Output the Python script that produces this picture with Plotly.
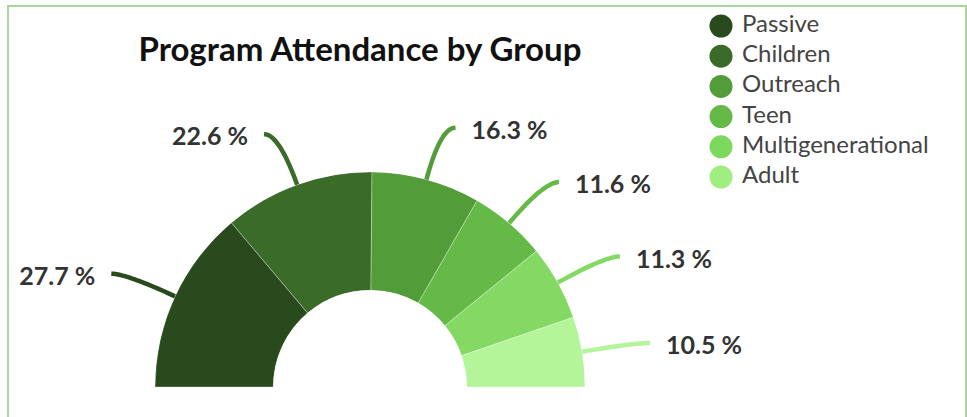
import math
import plotly.graph_objects as go

# ---- data ----
groups = ["Passive", "Children", "Outreach", "Teen", "Multigenerational", "Adult"]
shares = [27.7, 22.6, 16.3, 11.6, 11.3, 10.5]
slice_colors = ["#284a1d", "#3a6b28", "#539c3a", "#64b947", "#84d964", "#b3f598"]
legend_colors = ["#284a1d", "#3a6b28", "#539c3a", "#64b947", "#7dd95d", "#a0ee80"]
title_text = "Program Attendance by Group"

# ---- layout constants (pixels) ----
W, H = 967, 417
PIE_LEFT, PIE_RIGHT, PIE_TOP, PIE_BOTTOM = 155, 585, 172, 387
HOLE = 0.45
CX = (PIE_LEFT + PIE_RIGHT) / 2
CY = PIE_BOTTOM
R = (PIE_RIGHT - PIE_LEFT) / 2
L1 = 1.25          # radial extent of leader elbow (fraction of outer radius)
L2 = 15            # horizontal leader tail, px
GAP = 16           # gap between leader end and label, px
DROP = 5           # label sits slightly below leader end, px
FONT = "Lato"

total = sum(shares)
spans = [s / total * 180.0 for s in shares]
starts = [sum(spans[:i]) for i in range(len(spans))]
mids = [a + w / 2 for a, w in zip(starts, spans)]

fig = go.Figure()

fig.add_trace(go.Barpolar(
    r=[1] * len(groups),
    theta=mids,
    width=spans,
    marker=dict(color=slice_colors, line=dict(color="rgba(255,255,255,0.55)", width=0.6)),
    showlegend=False,
    hoverinfo="skip",
))

# leader lines and labels on a pixel-scaled overlay axis
for s, t, c in zip(shares, mids, slice_colors):
    phi = math.radians(180.0 - t)
    ux, uy = math.cos(phi), -math.sin(phi)   # screen direction (y down)
    ax, ay = CX + ux * R, CY + uy * R
    bx, by = CX + ux * R * L1, CY + uy * R * L1
    sign = 1 if ux > 0 else -1
    ex, ey = bx + sign * L2, by
    xs, ys = [], []
    n = 16
    for k in range(n + 1):
        u = k / n
        xs.append((1 - u) ** 2 * ax + 2 * (1 - u) * u * bx + u ** 2 * ex)
        ys.append((1 - u) ** 2 * ay + 2 * (1 - u) * u * by + u ** 2 * ey)
    fig.add_trace(go.Scatter(
        x=xs, y=ys, mode="lines", line=dict(color=c, width=4.5, shape="spline"),
        cliponaxis=False, showlegend=False, hoverinfo="skip",
    ))
    fig.add_trace(go.Scatter(
        x=[ex + sign * GAP], y=[ey + DROP], mode="text",
        text=[f"{s:.1f} %"],
        textposition="middle right" if sign > 0 else "middle left",
        textfont=dict(family=FONT, size=25, color="#333333", weight="bold"),
        cliponaxis=False, showlegend=False, hoverinfo="skip",
    ))

# custom legend (large circle markers)
LEG_X, LEG_Y0, LEG_DY, LEG_TX = 721, 26, 30.2, 742
leg_y = [LEG_Y0 + i * LEG_DY for i in range(len(groups))]
fig.add_trace(go.Scatter(
    x=[LEG_X] * len(groups), y=leg_y, mode="markers",
    marker=dict(size=23, color=legend_colors),
    cliponaxis=False, showlegend=False, hoverinfo="skip",
))
fig.add_trace(go.Scatter(
    x=[LEG_TX] * len(groups), y=leg_y, mode="text",
    text=groups, textposition="middle right",
    textfont=dict(family=FONT, size=24, color="#444444"),
    cliponaxis=False, showlegend=False, hoverinfo="skip",
))

fig.update_layout(
    width=W, height=H,
    margin=dict(l=0, r=0, t=0, b=0),
    paper_bgcolor="white", plot_bgcolor="rgba(0,0,0,0)",
    font=dict(family=FONT),
    title=dict(text=title_text, x=360 / W, xanchor="center", y=1 - 49 / H, yanchor="middle",
               font=dict(family=FONT, size=33, color="#111111", weight="bold")),
    polar=dict(
        domain=dict(x=[PIE_LEFT / W, PIE_RIGHT / W], y=[(H - PIE_BOTTOM) / H, (H - PIE_TOP) / H]),
        sector=[0, 180],
        hole=HOLE,
        bgcolor="rgba(0,0,0,0)",
        radialaxis=dict(visible=False, range=[0, 1]),
        angularaxis=dict(visible=False, rotation=180, direction="clockwise"),
    ),
    xaxis=dict(visible=False, range=[0, W], domain=[0, 1], fixedrange=True),
    yaxis=dict(visible=False, range=[H, 0], domain=[0, 1], fixedrange=True),
    shapes=[dict(type="rect", xref="paper", yref="paper",
                 x0=8 / W, x1=966 / W, y0=-0.2, y1=1 - 6 / H,
                 line=dict(color="#a8d59c", width=2), fillcolor="rgba(0,0,0,0)", layer="below")],
    showlegend=False,
)

fig.write_html("out.html", config={"displayModeBar": False})
